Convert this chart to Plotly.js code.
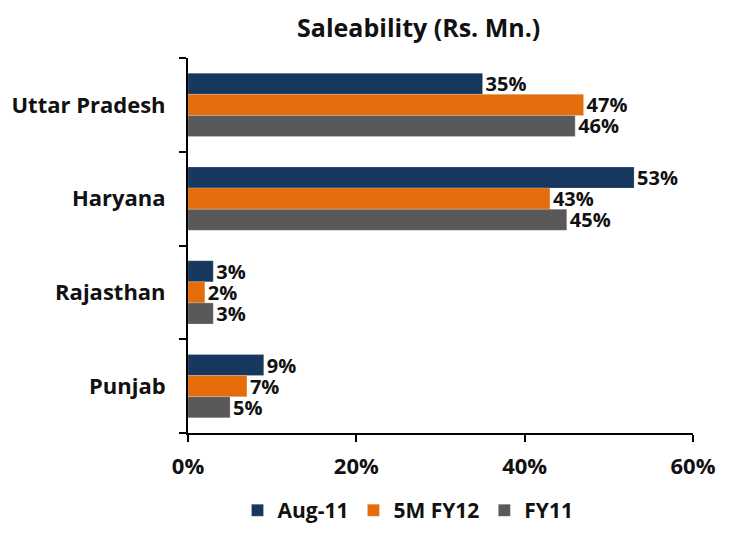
<!DOCTYPE html>
<html>
<head>
<meta charset="utf-8">
<script src="https://cdn.plot.ly/plotly-3.0.1.min.js"></script>
<style>html,body{margin:0;padding:0;background:#fff;}#chart{width:732px;height:543px;}</style>
</head>
<body>
<div id="chart"></div>
<script>
const categories = ["Uttar Pradesh", "Haryana", "Rajasthan", "Punjab"];
const seriesNames = ["Aug-11", "5M FY12", "FY11"];
const aug11 = [35, 53, 3, 9];
const fy12_5m = [47, 43, 2, 7];
const fy11 = [46, 45, 3, 5];
const xTickVals = [0, 20, 40, 60];
const xTickText = ["0%", "20%", "40%", "60%"];
const colors = ["#17375E", "#E46C0A", "#595959"];

const FONT = "'Open Sans', 'Noto Sans', sans-serif";
const values = [aug11, fy12_5m, fy11];
const traces = values.map((v, i) => ({
  type: "bar",
  orientation: "h",
  name: "<b>" + seriesNames[i] + "</b>",
  y: categories,
  x: v,
  marker: {color: colors[i], line: {color: "rgba(255,255,255,0.4)", width: 0.5}},
  text: v.map(d => "<b>" + d + "%</b>"),
  textposition: "outside",
  constraintext: "none",
  cliponaxis: false,
  textfont: {family: FONT, size: 20, color: "#111"},
  hoverinfo: "none"
}));

const layout = {
  width: 732, height: 543,
  margin: {l: 188, r: 39, t: 58, b: 94},
  paper_bgcolor: "#fff", plot_bgcolor: "#fff",
  barmode: "group", bargap: 0.325, bargroupgap: 0,
  title: {text: "<b>Saleability (Rs. Mn.)</b>", font: {family: FONT, size: 25, color: "#111"},
          x: 0.572, xref: "container", xanchor: "center", y: 0.948, yanchor: "middle"},
  xaxis: {range: [0, 60], tickvals: xTickVals, ticktext: xTickText.map(t => "<b>" + t + "</b>"), showgrid: false, zeroline: false,
          showline: true, linecolor: "#000", linewidth: 2, ticks: "outside", ticklen: 7, tickwidth: 2, tickcolor: "#000",
          tickfont: {family: FONT, size: 22, color: "#111"}, ticklabelstandoff: 6, fixedrange: true},
  yaxis: {autorange: "reversed", type: "category", showgrid: false, zeroline: false,
          showline: true, linecolor: "#000", linewidth: 2, ticks: "outside", tickson: "boundaries",
          ticklen: 7, tickwidth: 2, tickcolor: "#000",
          tickvals: categories, ticktext: categories.map(c => "<b>" + c + "</b>"),
          tickfont: {family: FONT, size: 22, color: "#111"}, ticklabelstandoff: 16, fixedrange: true},
  showlegend: true,
  legend: {orientation: "h", x: 0.098, xanchor: "left", y: -0.207, yanchor: "middle",
           font: {family: FONT, size: 21, color: "#111"}, traceorder: "normal",
           itemwidth: 30}
};

Plotly.newPlot("chart", traces, layout, {staticPlot: true});
</script>
</body>
</html>
